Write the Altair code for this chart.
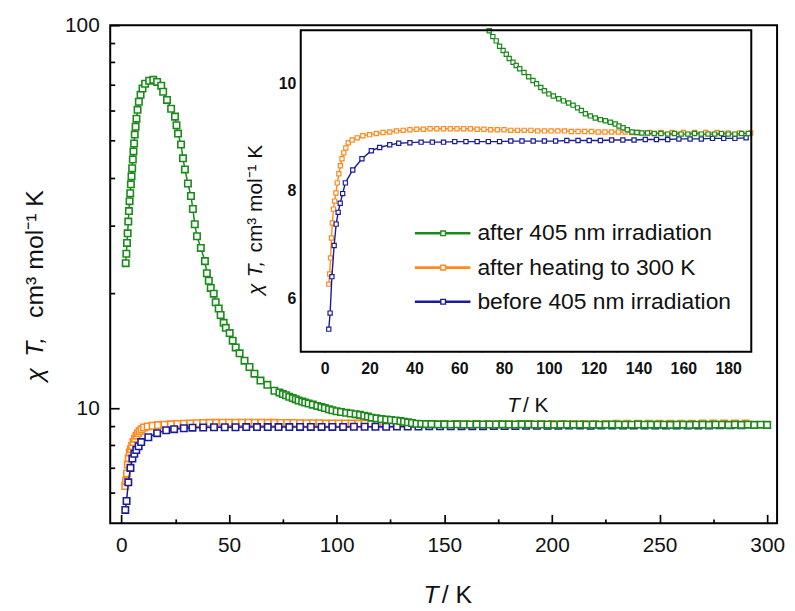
import altair as alt
import pandas as pd

# ---------------- data ----------------
series_names = ["after 405 nm irradiation", "after heating to 300 K", "before 405 nm irradiation"]
series_colors = ["#1a8a1a", "#ff8a1e", "#1c1c98"]

green_T = [2.0, 2.3, 2.6, 2.9, 3.2, 3.5, 3.8, 4.1, 4.4, 4.7, 5.0, 5.3, 5.6, 5.9, 6.2, 6.6, 7.0, 7.5,
           8.1, 8.9, 9.8, 11.0, 12.9, 14.8, 16.6, 18.5, 19.4, 21.2, 23.1, 24.9, 25.6, 26.3, 27.7, 28.6,
           29.5, 30.9, 32.3, 33.2, 34.1, 35.1, 36.9, 38.8, 39.7, 40.6, 41.5, 42.9, 43.8, 45.2, 46.1,
           47.5, 48.5, 50.3, 51.7, 53.1, 54.9, 57.2, 59.5, 61.8, 64.6, 67.8, 71.1, 73.4, 75.0, 76.5,
           78.0, 79.6, 81.0, 82.3, 84.0, 85.4, 87.0, 88.9, 91.0, 92.9, 94.5, 96.4, 98.0, 100.0, 102.0,
           104.4, 106.5, 108.8, 110.8, 112.8, 114.5, 116.3, 118.5, 120.7, 123.0, 125.2, 127.4, 129.6,
           131.3, 133.1, 135.0, 137.1, 139.3, 141.5,
           144, 147, 150, 153, 156, 159, 162, 165, 168, 171, 174, 177, 180, 183, 186, 189, 192, 195,
           198, 201, 204, 207, 210, 213, 216, 219, 222, 225, 228, 231, 234, 237, 240, 243, 246, 249,
           252, 255, 258, 261, 264, 267, 270, 273, 276, 279, 282, 285, 288, 291, 294, 297, 300]
green_chiT = [23.9, 25.3, 27.0, 28.6, 30.7, 32.7, 34.7, 36.4, 38.4, 40.3, 42.3, 44.6, 46.8, 49.1,
              51.8, 54.3, 57.0, 60.1, 63.1, 65.8, 68.3, 70.3, 71.6, 72.0, 71.1, 69.5, 67.0, 63.8,
              60.5, 57.7, 54.8, 52.1, 48.8, 44.9, 42.0, 38.6, 35.8, 33.1, 30.2, 28.1, 26.2, 24.2,
              22.5, 21.5, 20.6, 19.9, 18.9, 18.2, 17.5, 16.7, 16.2, 15.7, 15.0, 14.4, 13.9, 13.3,
              12.8, 12.3, 11.8, 11.5, 11.1, 10.99, 10.88, 10.80, 10.70, 10.62, 10.55, 10.47, 10.40,
              10.34, 10.28, 10.21, 10.13, 10.06, 10.00, 9.93, 9.87, 9.81, 9.77, 9.72, 9.68, 9.64,
              9.60, 9.55, 9.50, 9.44, 9.40, 9.36, 9.33, 9.31, 9.28, 9.25, 9.21, 9.18, 9.14, 9.10,
              9.09, 9.08,
              9.08, 9.07, 9.07, 9.06, 9.07, 9.06, 9.06, 9.07, 9.06, 9.06, 9.06, 9.07, 9.06, 9.06,
              9.07, 9.07, 9.06, 9.06, 9.06, 9.05, 9.06, 9.06, 9.05, 9.06, 9.05, 9.06, 9.05, 9.05,
              9.06, 9.05, 9.05, 9.05, 9.06, 9.05, 9.05, 9.05, 9.05, 9.04, 9.05, 9.05, 9.04, 9.05,
              9.05, 9.04, 9.05, 9.05, 9.04, 9.05, 9.04, 9.05, 9.04, 9.05, 9.04]

orange_T = [1.8, 2.2, 2.6, 3.0, 3.4, 3.9, 4.4, 5.0, 5.6, 6.3, 7.0, 7.7, 8.5, 9.4, 10.5, 12.2, 14.5,
            17.0, 20.0, 23.0, 26.0, 29.0, 32, 35, 38, 41, 44, 47, 50, 53, 56, 59, 62, 65, 68, 71, 74,
            77, 80, 83, 86, 89, 92, 95, 98, 101, 104, 107, 110, 113, 116, 119, 122, 125, 128, 131,
            134, 137, 140, 145, 150, 155, 160, 165, 170, 175, 180, 185, 190, 195, 200, 205, 210, 215,
            220, 225, 230, 235, 240, 245, 250, 255, 260, 265, 270, 275, 280, 285, 290]
orange_chiT = [6.26, 6.45, 6.75, 7.12, 7.40, 7.66, 7.81, 7.96, 8.15, 8.32, 8.47, 8.60, 8.71, 8.80,
               8.90, 8.95, 8.99, 9.03, 9.05, 9.07, 9.09, 9.10, 9.12, 9.13, 9.14, 9.15, 9.15, 9.16,
               9.16, 9.16, 9.16, 9.16, 9.16, 9.16, 9.15, 9.15, 9.14, 9.14, 9.14, 9.13, 9.13, 9.13,
               9.13, 9.12, 9.12, 9.12, 9.12, 9.12, 9.11, 9.11, 9.11, 9.11, 9.10, 9.10, 9.10, 9.10,
               9.10, 9.09, 9.09, 9.09, 9.09, 9.09, 9.09, 9.09, 9.09, 9.09, 9.08, 9.08, 9.08, 9.09,
               9.09, 9.09, 9.09, 9.09, 9.09, 9.09, 9.10, 9.10, 9.10, 9.10, 9.10, 9.10, 9.10, 9.10,
               9.11, 9.11, 9.12, 9.12, 9.12]

blue_T = [1.8, 2.4, 3.2, 4.2, 5.1, 6.0, 6.9, 8.0, 9.2, 12.5, 16.6, 20.8, 24.5, 29, 33, 38, 43, 48,
          53, 58, 63, 68, 73, 78, 83, 88, 93, 98, 103, 108, 113, 118, 123, 128, 133, 138, 143, 148,
          153, 158, 163, 168, 173, 178, 183, 188, 193, 198, 203, 208, 213, 218, 223, 228, 233, 238,
          243, 248, 253, 258, 263, 268, 273, 278, 283, 288]
blue_chiT = [5.42, 5.72, 6.40, 6.98, 7.38, 7.60, 7.77, 7.95, 8.15, 8.39, 8.60, 8.75, 8.81, 8.86,
             8.89, 8.90, 8.91, 8.91, 8.91, 8.92, 8.92, 8.92, 8.92, 8.92, 8.93, 8.93, 8.93, 8.93,
             8.93, 8.94, 8.94, 8.94, 8.94, 8.95, 8.95, 8.95, 8.96, 8.96, 8.96, 8.97, 8.97, 8.97,
             8.98, 8.98, 8.98, 8.99, 8.99, 8.99, 8.99, 9.00, 9.00, 8.99, 9.00, 9.00, 9.00, 9.00,
             9.00, 9.01, 9.00, 9.01, 9.01, 9.01, 9.01, 9.02, 9.02, 9.02]

main_x_major = [0, 50, 100, 150, 200, 250, 300]
main_x_minor = [25, 75, 125, 175, 225, 275]
main_y_major = [10, 100]
main_y_minor = [6, 7, 8, 9, 20, 30, 40, 50, 60, 70, 80, 90]
inset_x_major = [0, 20, 40, 60, 80, 100, 120, 140, 160, 180]
inset_x_minor = [10, 30, 50, 70, 90, 110, 130, 150, 170]
inset_y_major = [6, 8, 10]
inset_y_minor = [7, 9]

# ---------------- geometry / styles ----------------
W, H = 672, 502
IX0, IX1, IY0, IY1 = 192, 646, 5, 329
FONT = "Liberation Sans"
TXT = "#111111"

mx = alt.Scale(domain=[-5.2, 304.6], nice=False, zero=False)
my = alt.Scale(type="log", domain=[5, 100], nice=False)
ix = alt.Scale(domain=[-10.7, 190.3], range=[IX0, IX1], nice=False, zero=False)
iy = alt.Scale(domain=[5, 11], range=[IY1, IY0], nice=False, zero=False)

mx_axis = alt.Axis(orient="bottom", values=main_x_major, title=None, ticks=False, tickSize=0,
                   domain=False, grid=False, labelFont=FONT, labelFontSize=21, labelColor=TXT,
                   labelPadding=11, labelFlush=False, labelOverlap=False, format="d")
my_axis = alt.Axis(orient="left", values=main_y_major, title=None, ticks=False, tickSize=0,
                   domain=False, grid=False, labelFont=FONT, labelFontSize=21, labelColor=TXT,
                   labelPadding=11, labelFlush=False, labelOverlap=False, format="d")
ix_axis = alt.Axis(orient="bottom", offset=-(H - IY1), values=inset_x_major, title=None,
                   ticks=False, tickSize=0, domain=False, grid=False, labelFont=FONT,
                   labelFontSize=16, labelFontWeight="bold", labelColor=TXT, labelPadding=9,
                   labelFlush=False, labelOverlap=False, format="d")
iy_axis = alt.Axis(orient="left", offset=-IX0, values=inset_y_major, title=None,
                   ticks=False, tickSize=0, domain=False, grid=False, labelFont=FONT,
                   labelFontSize=16, labelFontWeight="bold", labelColor=TXT, labelPadding=5,
                   labelFlush=False, labelOverlap=False, format="d")

dummy = pd.DataFrame({"k": [0]})


def series(T, v, color, xs, ys, xa, ya, size, sw, lw, inset=False):
    df = pd.DataFrame({"T": T, "chiT": v})
    if inset:
        df = df[(df["T"] <= 190.3) & (df["chiT"] <= 11)]
    base = alt.Chart(df).encode(
        x=alt.X("T:Q", scale=xs, axis=xa),
        y=alt.Y("chiT:Q", scale=ys, axis=ya),
    )
    line = base.mark_line(color=color, strokeWidth=lw)
    pts = base.mark_point(shape="square", size=size, filled=True, fill="white",
                          stroke=color, strokeWidth=sw, opacity=1)
    return [line, pts]


# Inward ticks are drawn by extra axes that face the opposite way and are pushed back
# onto the frame (an axis of "top" orientation at the bottom edge points its ticks up).
def xtick_axis(vals, xs, ybase, length):
    ax = alt.Axis(orient="top", offset=-ybase, values=vals, ticks=True, tickSize=length,
                  tickWidth=1.7, tickColor="black", tickOpacity=1, labels=False,
                  domain=False, grid=False, title=None)
    df = pd.DataFrame({"tick_x": vals})
    return alt.Chart(df).mark_point(opacity=0, size=1).encode(
        x=alt.X("tick_x:Q", scale=xs, axis=ax), y=alt.value(ybase))


def ytick_axis(vals, ys, xbase, length):
    ax = alt.Axis(orient="right", offset=-(W - xbase), values=vals, ticks=True,
                  tickSize=length, tickWidth=1.7, tickColor="black", tickOpacity=1,
                  labels=False, domain=False, grid=False, title=None)
    df = pd.DataFrame({"tick_y": vals})
    return alt.Chart(df).mark_point(opacity=0, size=1).encode(
        y=alt.Y("tick_y:Q", scale=ys, axis=ax), x=alt.value(xbase))


def text(t, x, y, size, angle=0, align="left", baseline="alphabetic", style="normal",
         weight="normal"):
    return alt.Chart(pd.DataFrame({"t": [t]})).mark_text(
        font=FONT, fontSize=size, angle=angle, align=align, baseline=baseline,
        fontStyle=style, fontWeight=weight, color=TXT).encode(
        text="t:N", x=alt.value(x), y=alt.value(y))


green_c, orange_c, blue_c = series_colors

# ---------------- main panel ----------------
main_layers = []
for T, v, c in [(orange_T, orange_chiT, orange_c), (blue_T, blue_chiT, blue_c),
                (green_T, green_chiT, green_c)]:
    main_layers += series(T, v, c, mx, my, mx_axis, my_axis, size=42, sw=1.6, lw=1.5)
main = alt.layer(*main_layers)

# ---------------- inset panel ----------------
inset_bg = alt.Chart(dummy).mark_rect(fill="white", stroke=None).encode(
    x=alt.value(IX0), x2=alt.value(IX1), y=alt.value(IY0), y2=alt.value(IY1))
inset_layers = [inset_bg]
for T, v, c in [(orange_T, orange_chiT, orange_c), (blue_T, blue_chiT, blue_c),
                (green_T, green_chiT, green_c)]:
    inset_layers += series(T, v, c, ix, iy, ix_axis, iy_axis, size=18, sw=1.2, lw=1.4, inset=True)
inset_frame = alt.Chart(dummy).mark_rect(fill=None, filled=False, stroke="black",
                                         strokeWidth=2).encode(
    x=alt.value(IX0), x2=alt.value(IX1), y=alt.value(IY0), y2=alt.value(IY1))
inset_layers.append(inset_frame)
inset = alt.layer(*inset_layers)

# ---------------- tick axes (top level, own scales with the same mapping) ----------------
tick_layers = [
    xtick_axis(main_x_major, mx, H, 9),
    xtick_axis(main_x_minor, mx, H, 4.5),
    ytick_axis(main_y_major, my, 0, 9),
    ytick_axis(main_y_minor, my, 0, 4.5),
    xtick_axis(inset_x_major, ix, IY1, 5.5),
    xtick_axis(inset_x_minor, ix, IY1, 3),
    ytick_axis(inset_y_major, iy, IX0, 5.5),
    ytick_axis(inset_y_minor, iy, IX0, 3),
]

# ---------------- legend & titles ----------------
annot = []
legend_rows_y = [209.7, 244.3, 278.7]
for name, c, ry in zip(series_names, series_colors, legend_rows_y):
    annot.append(alt.Chart(dummy).mark_rule(color=c, strokeWidth=2.6).encode(
        x=alt.value(307), x2=alt.value(363), y=alt.value(ry)))
    annot.append(alt.Chart(dummy).mark_point(shape="square", size=22, filled=True, fill="white",
                                             stroke=c, strokeWidth=1.4, opacity=1).encode(
        x=alt.value(335.5), y=alt.value(ry)))
    annot.append(text(name, 370, ry, 23, baseline="middle"))

annot.append(text("T", 331, 582, 25, align="right", style="italic"))
annot.append(text("/ K", 334, 582, 25, align="left"))
annot.append(text("\u03c7", -76, 359, 25, angle=270, align="left", baseline="middle",
                  style="italic"))
annot.append(text("T,", -76, 334, 25, angle=270, align="left", baseline="middle",
                  style="italic"))
annot.append(text("cm\u00b3 mol\u207b\u00b9 K", -76, 295, 25, angle=270, align="left",
                  baseline="middle"))
annot.append(text("T", 413, 390, 21, align="right", style="italic"))
annot.append(text("/ K", 416, 390, 21, align="left"))
annot.append(text("\u03c7", 147, 272, 21, angle=270, align="left", baseline="middle",
                  style="italic"))
annot.append(text("T,", 147, 254, 21, angle=270, align="left", baseline="middle",
                  style="italic"))
annot.append(text("cm\u00b3 mol\u207b\u00b9 K", 147, 229, 21, angle=270, align="left",
                  baseline="middle"))
annot_layer = alt.layer(*annot)

chart = alt.layer(main, inset, *tick_layers, annot_layer).resolve_scale(
    x="independent", y="independent"
).properties(
    width=W, height=H,
    padding={"left": 103, "top": 15, "right": 10, "bottom": 85},
    autosize=alt.AutoSizeParams(type="none"),
    background="white",
).configure_view(stroke="black", strokeWidth=2)

chart.save("out.html", embed_options={"renderer": "svg", "actions": False})
